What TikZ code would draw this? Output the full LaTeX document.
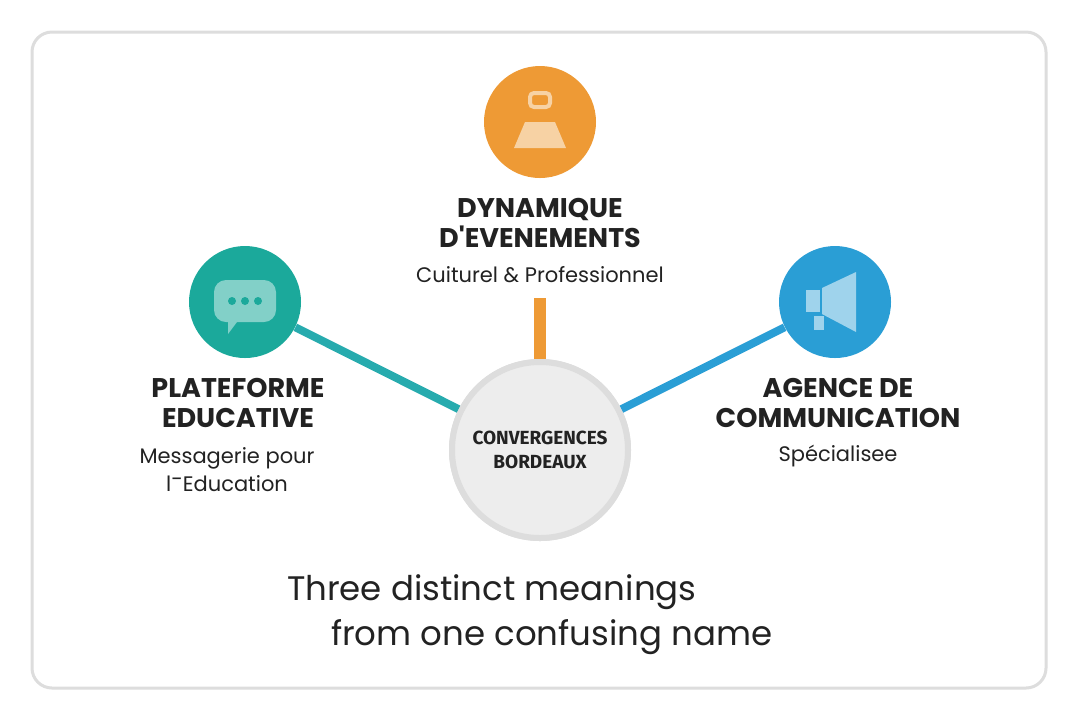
\documentclass[tikz,border=0pt]{standalone}
\usepackage{fontspec}
\setmainfont{Poppins}
\newfontfamily\condfont{Fira Sans}
\usetikzlibrary{positioning}
\definecolor{teal1}{HTML}{1BA99B}
\definecolor{tealline}{HTML}{27ABAE}
\definecolor{orange1}{HTML}{EE9A35}
\definecolor{blue1}{HTML}{2A9ED5}
\definecolor{frame}{HTML}{DDDDDD}
\definecolor{ink}{HTML}{222222}
\begin{document}
\begin{tikzpicture}[
        x=0.5pt,y=-0.5pt,
        hub/.style={
          circle,
          draw=frame,
          line width=3pt,
          fill=black!7,
          minimum size=88pt,
          inner sep=0pt,
          align=center,
          font=\condfont\bfseries\fontsize{9.5}{12}\selectfont,
          text=ink
        },
        badge/.style={
          circle,
          minimum size=56pt,
          inner sep=0pt
        },
        title/.style={
          align=center,
          font=\bfseries\fontsize{13.5}{15}\selectfont,
          text=ink
        },
        sub/.style={
          align=center,
          font=\fontsize{10.5}{14}\selectfont,
          text=ink
        },
        link/.style={
          line width=4pt
        }
      ]
        \useasboundingbox (0,0) rectangle (1080,720);
        \fill[white] (0,0) rectangle (1080,720);
        \draw[frame,line width=1.5pt,rounded corners=10pt] (32,32) rectangle (1046,688);

        \node[hub] (hub) at (540,450) {CONVERGENCES\\BORDEAUX};
        \node[badge,fill=orange1] (ev) at (540,122) {};
        \node[badge,fill=teal1] (edu) at (245,302) {};
        \node[badge,fill=blue1] (com) at (835,302) {};

        \coordinate (evlink) at (540,298);
        \draw[orange1,line width=6pt] (evlink) -- (hub.north);
        \draw[link,tealline] (edu) -- (hub);
        \draw[link,blue1] (com) -- (hub);
        \node[hub] at (hub) {CONVERGENCES\\BORDEAUX};

        % icons
        \fill[orange1!45!white] (525,122) -- (555,122) -- (566,148) -- (514,148) -- cycle;
        \draw[orange1!45!white,line width=2pt,rounded corners=2pt] (530,93) rectangle (550,107);
        \fill[teal1!55!white,rounded corners=6pt] (214,280) rectangle (276,322);
        \fill[teal1!55!white] (228,318) -- (240,318) -- (228,334) -- cycle;
        \foreach \x in {232,245,258}
          \fill[teal1] (\x,301) circle (2pt);
        \fill[blue1!45!white] (806,290) rectangle (820,312);
        \fill[blue1!45!white] (822,288) -- (856,272) -- (856,332) -- (822,314) -- cycle;
        \fill[blue1!45!white] (814,316) rectangle (824,330);

        % labels
        \node[title] (evt) at (540,223) {DYNAMIQUE\\D\textquotesingle EVENEMENTS};
        \node[sub] (evs) at (540,275) {Cuiturel \& Professionnel};
        \node[title] (edut) at (238,403) {PLATEFORME\\EDUCATIVE};
        \node[sub] (edus) at (227,470) {Messagerie pour\\l\raisebox{0.5ex}{-}Education};
        \node[title] (comt) at (838,403) {AGENCE DE\\COMMUNICATION};
        \node[sub] (coms) at (838,456) {Spécialisee};

        \node[anchor=west,text=ink,font=\fontsize{17}{22}\selectfont] (cap1) at (280,592) {Three distinct meanings};
        \node[anchor=west,text=ink,font=\fontsize{17}{22}\selectfont] (cap2) at (324,637) {from one confusing name};
\end{tikzpicture}
\end{document}
